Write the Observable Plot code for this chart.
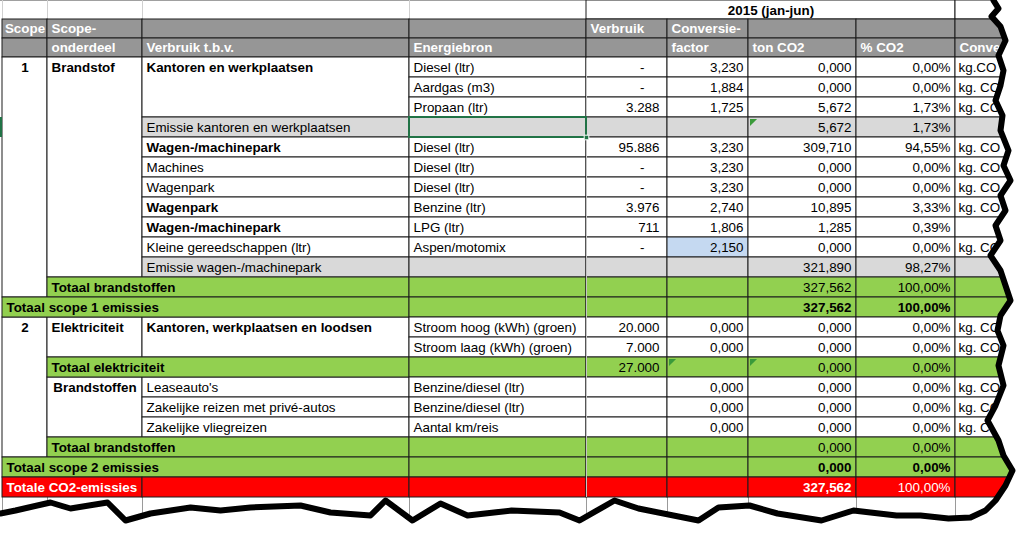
<!DOCTYPE html>
<html><head><meta charset="utf-8">
<script src="https://cdn.jsdelivr.net/npm/d3@7"></script>
<script src="https://cdn.jsdelivr.net/npm/@observablehq/plot@0.6"></script>
<style>html,body{margin:0;padding:0;background:#fff;overflow:hidden;}</style>
</head><body><div id="chart"></div>
<script>
// ---------------- DATA ----------------
const periodLabel = "2015 (jan-jun)";
const headerTop = ["Scope", "Scope-", "", "", "Verbruik", "Conversie-", "", "", ""];
const headerBottom = ["", "onderdeel", "Verbruik t.b.v.", "Energiebron", "", "factor", "ton CO2", "% CO2", "Conve"];

const rowType = ["item","item","item","sub","item","item","item","item","item","item","sub","total","scopetotal",
                 "item","item","total","item","item","item","total","scopetotal","grand"];
const energiebron = ["Diesel (ltr)","Aardgas (m3)","Propaan (ltr)","","Diesel (ltr)","Diesel (ltr)","Diesel (ltr)",
                     "Benzine (ltr)","LPG (ltr)","Aspen/motomix","","","",
                     "Stroom hoog (kWh) (groen)","Stroom laag (kWh) (groen)","",
                     "Benzine/diesel (ltr)","Benzine/diesel (ltr)","Aantal km/reis","","",""];
const verbruik = [0,0,3288,null,95886,0,0,3976,711,0,null,null,null,20000,7000,27000,null,null,null,null,null,null];
const conversiefactor = [3.230,1.884,1.725,null,3.230,3.230,3.230,2.740,1.806,2.150,null,null,null,
                         0,0,null,0,0,0,null,null,null];
const tonCO2 = [0,0,5.672,5.672,309.710,0,0,10.895,1.285,0,321.890,327.562,327.562,
                0,0,0,0,0,0,0,0,327.562];
const pctCO2 = [0,0,0.0173,0.0173,0.9455,0,0,0.0333,0.0039,0,0.9827,1,1,
                0,0,0,0,0,0,0,0,1];
const eenheid = ["kg.CO","kg. CO","kg. CO","","kg. CO","kg. CO","kg. CO","kg. CO","","kg. CO","","","",
                 "kg. CO","kg. CO","","kg. CO","kg. CO","kg. CO","","",""];
const handmatigeInvoer = [9]; // row whose conversion factor is an input cell
const opmerkingen = [{row: 3, col: 6}, {row: 15, col: 5}, {row: 15, col: 6}]; // cell indicator triangles

const scopeGroups = [{label: "1", row: 0, span: 12}, {label: "2", row: 13, span: 7}];
const onderdeelGroups = [
  {label: "Brandstof", row: 0, span: 11},
  {label: "Elektriciteit", row: 13, span: 2},
  {label: "Brandstoffen", row: 16, span: 3, center: true}
];
const tbvLabels = [
  {label: "Kantoren en werkplaatsen", row: 0, span: 3, bold: true},
  {label: "Emissie kantoren en werkplaatsen", row: 3},
  {label: "Wagen-/machinepark", row: 4, bold: true},
  {label: "Machines", row: 5},
  {label: "Wagenpark", row: 6},
  {label: "Wagenpark", row: 7, bold: true},
  {label: "Wagen-/machinepark", row: 8, bold: true},
  {label: "Kleine gereedschappen (ltr)", row: 9},
  {label: "Emissie wagen-/machinepark", row: 10},
  {label: "Kantoren, werkplaatsen en loodsen", row: 13, span: 2, bold: true},
  {label: "Leaseauto's", row: 16},
  {label: "Zakelijke reizen met privé-autos", row: 17},
  {label: "Zakelijke vliegreizen", row: 18}
];
const totalLabels = [
  {label: "Totaal brandstoffen", row: 11},
  {label: "Totaal scope 1 emissies", row: 12},
  {label: "Totaal elektriciteit", row: 15},
  {label: "Totaal brandstoffen", row: 19},
  {label: "Totaal scope 2 emissies", row: 20},
  {label: "Totale CO2-emissies", row: 21}
];

// torn-paper edge (decoration)
const tearRight = [[993,0],[998,8],[991,16],[1000,26],[1005,40],[998,55],[1003,70],[1000,85],[995,100],[1002,115],
  [1000,130],[1008,150],[1003,165],[1010,180],[1000,195],[1005,210],[995,225],[1000,240],[990,255],[1000,270],
  [1005,285],[1010,300],[1000,315],[997,330],[1003,345],[998,365],[1003,385],[995,405],[987,420],[998,440],
  [1003,455],[1012,470],[1005,485],[995,500],[985,510],[970,517]];
const tearBottom = [[970,517],[948,518],[920,515],[896,515],[870,512],[853,510],[821,520],[777,513],[749,505],
  [718,507],[698,520],[638,508],[614,500],[579,520],[559,512],[511,510],[467,515],[440,503],[412,520],[385,500],
  [370,515],[330,512],[300,505],[250,507],[220,510],[190,507],[150,513],[125,520],[107,502],[70,508],[50,502],
  [15,510],[0,513]];

// ---------------- LAYOUT / STYLE ----------------
const W = 1024, H = 537;
const colWidths = [45, 95, 267, 177, 81, 81, 108, 99, 75];
const edges = [2];
colWidths.forEach(w => edges.push(edges[edges.length - 1] + w));
const topRowH = 19, headTop = 19, headH = 19, dataTop = 57, rowH = 20;
const rowY = r => dataTop + r * rowH;
const N = rowType.length;
const FONT = "'Liberation Sans', Arial, sans-serif";
const FS = 13.4;
const C = {header: "#969696", sub: "#D9D9D9", total: "#92D050", grand: "#FF0000", white: "#FFFFFF",
           blue: "#C5D9F1", border: "#1c1c1c", grid: "#d0d0d0", select: "#217346"};
const fillFor = t => ({item: C.white, sub: C.sub, total: C.total, scopetotal: C.total, grand: C.grand})[t];

const loc = d3.formatLocale({decimal: ",", thousands: ".", grouping: [3], currency: ["€", ""]});
const fInt = loc.format(",d"), f3 = loc.format(",.3f"), fPct = loc.format(".2%");

// ---------------- CELLS ----------------
const cells = [];
cells.push({x1: edges[4], x2: edges[8], y1: 0, y2: topRowH, fill: C.white});
cells.push({x1: edges[8], x2: edges[9], y1: 0, y2: topRowH, fill: C.white});
for (let c = 0; c < 9; c++) {
  cells.push({x1: edges[c], x2: edges[c + 1], y1: headTop, y2: headTop + headH, fill: C.header});
  cells.push({x1: edges[c], x2: edges[c + 1], y1: headTop + headH, y2: dataTop, fill: C.header});
}
scopeGroups.forEach(g => cells.push({x1: edges[0], x2: edges[1], y1: rowY(g.row), y2: rowY(g.row + g.span), fill: C.white}));
onderdeelGroups.forEach(g => cells.push({x1: edges[1], x2: edges[2], y1: rowY(g.row), y2: rowY(g.row + g.span), fill: C.white}));
tbvLabels.forEach(g => cells.push({x1: edges[2], x2: edges[3], y1: rowY(g.row), y2: rowY(g.row + (g.span || 1)), fill: fillFor(rowType[g.row])}));
const totalStart = t => t === "total" ? 1 : 0;
totalLabels.forEach(g => {
  const t = rowType[g.row];
  if (t === "grand") {
    cells.push({x1: edges[0], x2: edges[2], y1: rowY(g.row), y2: rowY(g.row + 1), fill: C.grand});
    cells.push({x1: edges[2], x2: edges[3], y1: rowY(g.row), y2: rowY(g.row + 1), fill: C.grand});
  } else {
    cells.push({x1: edges[totalStart(t)], x2: edges[3], y1: rowY(g.row), y2: rowY(g.row + 1), fill: fillFor(t)});
  }
});
for (let r = 0; r < N; r++) {
  for (let c = 3; c < 9; c++) {
    let fill = fillFor(rowType[r]);
    if (c === 5 && handmatigeInvoer.includes(r)) fill = C.blue;
    cells.push({x1: edges[c], x2: edges[c + 1], y1: rowY(r), y2: rowY(r + 1), fill});
  }
}

// ---------------- TEXTS ----------------
const texts = []; // {x, y, text, anchor, bold, color}
const mid = r => rowY(r) + 10.5;
texts.push({x: (edges[4] + edges[8]) / 2, y: 10, text: periodLabel, anchor: "middle", bold: true, color: "#000"});
headerTop.forEach((t, c) => t && texts.push({x: c === 0 ? (edges[0] + edges[1]) / 2 : edges[c] + 4, y: headTop + 9.5, text: t, anchor: c === 0 ? "middle" : "start", bold: true, color: "#fff"}));
headerBottom.forEach((t, c) => t && texts.push({x: edges[c] + 4, y: headTop + headH + 9.5, text: t, anchor: "start", bold: true, color: "#fff"}));
scopeGroups.forEach(g => texts.push({x: (edges[0] + edges[1]) / 2, y: mid(g.row), text: g.label, anchor: "middle", bold: true, color: "#000"}));
onderdeelGroups.forEach(g => texts.push({x: g.center ? (edges[1] + edges[2]) / 2 : edges[1] + 4, y: mid(g.row), text: g.label, anchor: g.center ? "middle" : "start", bold: true, color: "#000"}));
tbvLabels.forEach(g => texts.push({x: edges[2] + 4, y: mid(g.row), text: g.label, anchor: "start", bold: !!g.bold, color: "#000"}));
totalLabels.forEach(g => {
  const t = rowType[g.row];
  texts.push({x: edges[totalStart(t)] + 4, y: mid(g.row), text: g.label, anchor: "start", bold: true, color: t === "grand" ? "#fff" : "#000"});
});
for (let r = 0; r < N; r++) {
  const t = rowType[r];
  const strong = t === "scopetotal" || t === "grand";
  const col = t === "grand" ? "#fff" : "#000";
  if (energiebron[r]) texts.push({x: edges[3] + 4, y: mid(r), text: energiebron[r], anchor: "start", bold: false, color: col});
  if (verbruik[r] != null) {
    if (verbruik[r] === 0) texts.push({x: edges[5] - 23, y: mid(r), text: "-", anchor: "end", bold: false, color: col});
    else texts.push({x: edges[5] - 8, y: mid(r), text: fInt(verbruik[r]), anchor: "end", bold: false, color: col});
  }
  if (conversiefactor[r] != null) texts.push({x: edges[6] - 5, y: mid(r), text: f3(conversiefactor[r]), anchor: "end", bold: false, color: col});
  if (tonCO2[r] != null) texts.push({x: edges[7] - 5, y: mid(r), text: f3(tonCO2[r]), anchor: "end", bold: strong, color: col});
  if (pctCO2[r] != null) texts.push({x: edges[8] - 5, y: mid(r), text: fPct(pctCO2[r]), anchor: "end", bold: t === "scopetotal", color: col});
  if (eenheid[r]) texts.push({x: edges[8] + 3, y: mid(r), text: eenheid[r], anchor: "start", bold: false, color: col});
}
const textMarks = [];
for (const anchor of ["start", "middle", "end"]) {
  for (const bold of [false, true]) {
    const sub = texts.filter(d => d.anchor === anchor && d.bold === bold);
    if (sub.length) textMarks.push(Plot.text(sub, {
      x: "x", y: "y", text: "text", fill: "color", textAnchor: anchor, lineAnchor: "middle",
      fontSize: FS, fontFamily: FONT, fontWeight: bold ? "bold" : "normal"
    }));
  }
}

const cornerTriangle = {draw(ctx, size) { const s = Math.sqrt(size) * 1.6; ctx.moveTo(0, 0); ctx.lineTo(s, 0); ctx.lineTo(0, s); ctx.closePath(); }};

// ---------------- PLOT ----------------
const chart = Plot.plot({
  width: W, height: H, margin: 0,
  x: {domain: [0, W], range: [0, W], axis: null},
  y: {domain: [0, H], range: [0, H], axis: null},
  color: {type: "identity"},
  style: {fontFamily: FONT, background: "#fff"},
  marks: [
    Plot.ruleY([0], {y: d => d, x1: 0, x2: W, stroke: "#a0a0a0"}),
    Plot.ruleX(edges.slice(0, 4), {x: d => d, y1: 0, y2: topRowH, stroke: C.grid}),
    Plot.ruleX(edges, {x: d => d, y1: rowY(N), y2: 530, stroke: "#9a9a9a"}),
    Plot.rect(cells, {x1: "x1", x2: "x2", y1: "y1", y2: "y2", fill: "fill", stroke: C.border, strokeWidth: 1}),
    Plot.ruleX([edges[4]], {x: d => d, y1: dataTop + 1, y2: rowY(N), stroke: "#c4c4c4"}),
    Plot.rect([{x1: 0, x2: 2, y1: rowY(3), y2: rowY(4)}], {x1: "x1", x2: "x2", y1: "y1", y2: "y2", fill: C.select}),
    Plot.dot(opmerkingen, {x: d => edges[d.col] + 1.5, y: d => rowY(d.row) + 1.5, symbol: cornerTriangle, r: 2.5, fill: "#3a9a3a", stroke: "none"}),
    ...textMarks,
    Plot.rect([{x1: edges[3], x2: edges[4], y1: rowY(3), y2: rowY(4)}], {x1: "x1", x2: "x2", y1: "y1", y2: "y2", fill: "none", stroke: C.select, strokeWidth: 2}),
    Plot.dot([[edges[4], rowY(4)]], {x: d => d[0], y: d => d[1], symbol: "square", r: 2.6, fill: C.select, stroke: "#fff", strokeWidth: 1}),
    Plot.areaX(tearRight, {y: d => d[1], x1: d => d[0], x2: W, fill: "#fff"}),
    Plot.areaY(tearBottom, {x: d => d[0], y1: d => d[1], y2: H, fill: "#fff"}),
    Plot.rect([{x1: 960, x2: W, y1: 505, y2: H}], {x1: "x1", x2: "x2", y1: "y1", y2: "y2", fill: "#fff"}),
    Plot.line(tearRight.concat(tearBottom.slice(1)), {x: d => d[0], y: d => d[1], stroke: "#000", strokeWidth: 6, strokeLinejoin: "round", strokeLinecap: "round"})
  ]
});
document.getElementById("chart").appendChild(chart);
</script>
</body></html>
